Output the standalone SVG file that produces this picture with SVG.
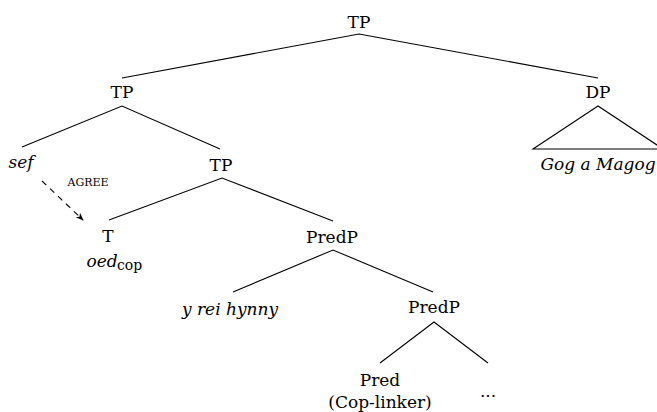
<svg xmlns="http://www.w3.org/2000/svg" width="657" height="412" viewBox="0 0 657 412">
<defs>
<style>
text{font-family:"DejaVu Serif","Liberation Serif",serif;font-size:17px;fill:#000;text-anchor:middle}
.it{font-style:italic}
.sc{font-size:11px}
.sub{font-size:14px;text-anchor:start}
.e{stroke:#000;stroke-width:1.1;fill:none}
</style>
<marker id="ah" viewBox="0 0 10 10" refX="9" refY="5" markerWidth="8" markerHeight="8" markerUnits="userSpaceOnUse" orient="auto">
<path d="M0,1 L10,5 L0,9 L3,5 Z" fill="#000"/>
</marker>
</defs>
<rect width="657" height="412" fill="#fff"/>
<g id="connectors">
<path class="e" d="M122,78 L359,34 L598,78"/>
<path class="e" d="M22,147 L122,106 L220,149"/>
<path class="e" d="M109,220 L222,178 L333,221"/>
<path class="e" d="M233,292 L333,250 L433,292"/>
<path class="e" d="M380,363 L434,322 L488,363"/>
<path class="e" d="M598,106 L533,149 L663,149 Z"/>
<path class="e" d="M42,181 L83,220" stroke-dasharray="6,5" marker-end="url(#ah)"/>
</g>
<g id="tp-root"><text x="359" y="28">TP</text></g>
<g id="tp-left"><text x="122" y="98">TP</text></g>
<g id="dp"><text x="598" y="98">DP</text></g>
<g id="dp-leaf"><text class="it" x="598" y="170">Gog a Magog</text></g>
<g id="sef"><text class="it" x="21" y="168">sef</text></g>
<g id="agree"><text class="sc" x="88" y="186">AGREE</text></g>
<g id="tp-mid"><text x="221" y="171">TP</text></g>
<g id="t"><text x="108" y="242">T</text></g>
<g id="oed"><text class="it" x="102" y="267">oed</text><text class="sub" x="117" y="270">cop</text></g>
<g id="predp-mid"><text x="332" y="243">PredP</text></g>
<g id="yrei"><text class="it" x="230" y="315">y rei hynny</text></g>
<g id="predp-low"><text x="434" y="313">PredP</text></g>
<g id="pred"><text x="380" y="386">Pred</text><text x="380" y="408">(Cop-linker)</text></g>
<g id="dots"><text x="488" y="397">...</text></g>
</svg>
